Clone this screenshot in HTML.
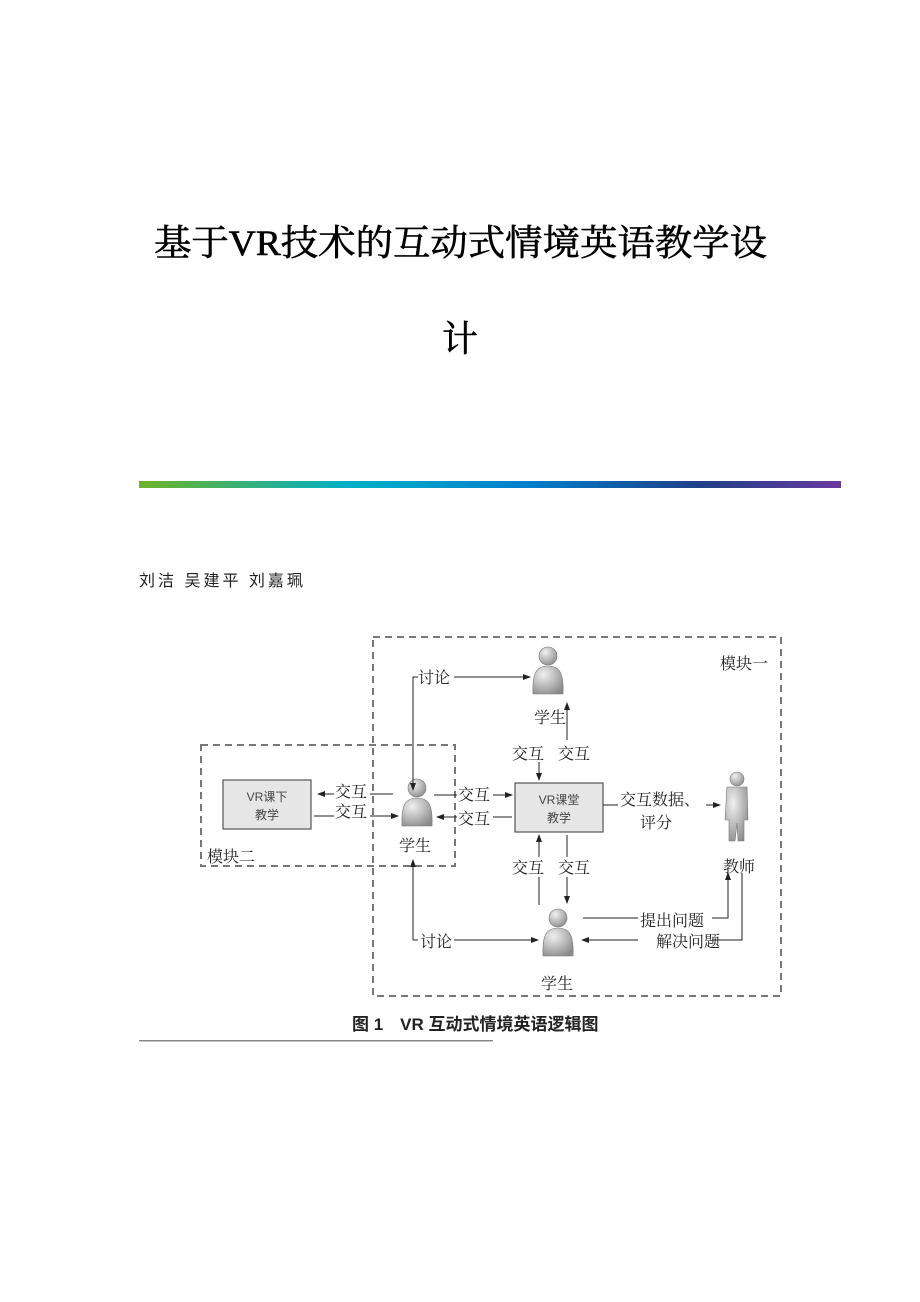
<!DOCTYPE html>
<html><head><meta charset="utf-8"><style>
html,body{margin:0;padding:0;background:#fff;width:920px;height:1302px;overflow:hidden}
svg{position:absolute;left:0;top:0}
</style></head><body>
<svg width="920" height="1302" viewBox="0 0 920 1302" xmlns="http://www.w3.org/2000/svg">
<defs>
<linearGradient id="g" x1="0" x2="1"><stop offset="0" stop-color="#6fb228"/><stop offset="0.3" stop-color="#00b0c8"/><stop offset="0.55" stop-color="#0080cc"/><stop offset="0.8" stop-color="#1f3f86"/><stop offset="1" stop-color="#6a3aa0"/></linearGradient>
<marker id="a" markerWidth="8" markerHeight="8" refX="7" refY="4" orient="auto" markerUnits="userSpaceOnUse"><path d="M0,1 L8,4 L0,7 z" fill="#222"/></marker>
<radialGradient id="p" cx="0.35" cy="0.3" r="0.8"><stop offset="0" stop-color="#f0f0f0"/><stop offset="1" stop-color="#8a8a8a"/></radialGradient>
<g id="stu"><circle cx="0" cy="-16" r="9" fill="url(#p)" stroke="#777" stroke-width="0.6"/><path d="M-15,22 C-16,0 -11,-6 0,-6 C11,-6 16,0 15,22 z" fill="url(#p)" stroke="#777" stroke-width="0.6"/></g>
</defs>
<g font-family="'Liberation Serif','Noto Serif CJK SC',serif" fill="#000" stroke="#000" stroke-width="0.6">
<text x="154" y="255" font-size="36" textLength="613" lengthAdjust="spacingAndGlyphs">基于VR技术的互动式情境英语教学设</text>
<text x="442" y="351" font-size="36">计</text>
</g>
<rect x="139" y="481" width="702" height="7" fill="url(#g)"/>
<text x="139" y="586" font-family="'Liberation Sans','Noto Sans CJK SC',sans-serif" font-size="16" fill="#222" letter-spacing="3">刘洁 吴建平 刘嘉珮</text>

<g fill="none" stroke="#777" stroke-width="2" stroke-dasharray="7,5">
<rect x="373" y="637" width="408" height="359"/>
<rect x="201" y="745" width="254" height="121"/>
</g>
<rect x="223" y="780" width="88" height="49" fill="#e6e6e6" stroke="#555" stroke-width="1.2"/>
<rect x="515" y="783" width="88" height="49" fill="#e6e6e6" stroke="#555" stroke-width="1.2"/>
<g font-family="'Liberation Sans','Noto Sans CJK SC',sans-serif" font-size="12" fill="#444" text-anchor="middle">
<text x="267" y="801">VR课下</text><text x="267" y="819">教学</text>
<text x="559" y="804">VR课堂</text><text x="559" y="822">教学</text>
</g>
<use href="#stu" x="548" y="672"/>
<use href="#stu" x="417" y="804"/>
<use href="#stu" x="558" y="934"/>
<g transform="translate(737,805)"><circle cx="0" cy="-26" r="7" fill="url(#p)" stroke="#777" stroke-width="0.6"/><path d="M-10,-18 L10,-18 L11,15 L7,15 L7,36 L1,36 L0,18 L-2,36 L-8,36 L-8,15 L-12,15 z" fill="url(#p)" stroke="#777" stroke-width="0.6"/></g>

<g stroke="#222" stroke-width="1" fill="none" marker-end="url(#a)">
<path d="M413,684 L413,677 L530,677"/>
<path d="M413,684 L413,790"/>
<path d="M413,940 L413,860"/>
<path d="M413,940 L538,940"/>
<path d="M539,745 L539,780"/>
<path d="M567,740 L567,703"/>
<path d="M539,905 L539,835"/>
<path d="M567,835 L567,903"/>
<path d="M434,795 L512,795"/>
<path d="M512,817 L437,817"/>
<path d="M393,794 L318,794"/>
<path d="M314,816 L398,816"/>
<path d="M603,805 L720,805"/>
<path d="M583,918 L728,918 L728,873"/>
<path d="M742,873 L742,940 L582,940"/>
</g>
<g font-family="'Liberation Serif','Noto Serif CJK SC',serif" font-size="16" fill="#222">
<rect x="418" y="668" width="36" height="18" fill="#fff"/><text x="418" y="683">讨论</text>
<rect x="418" y="932" width="36" height="18" fill="#fff"/><text x="420" y="947">讨论</text>
<text x="534" y="723">学生</text>
<text x="399" y="851">学生</text>
<text x="541" y="989">学生</text>
<text x="723" y="872">教师</text>
<text x="720" y="669">模块一</text>
<text x="207" y="862">模块二</text>
<rect x="511" y="742" width="80" height="20" fill="#fff"/>
<text x="512" y="759">交互</text><text x="558" y="759">交互</text>
<rect x="511" y="857" width="80" height="20" fill="#fff"/>
<text x="512" y="873">交互</text><text x="558" y="873">交互</text>
<rect x="334" y="782" width="36" height="40" fill="#fff"/>
<text x="335" y="797">交互</text><text x="335" y="817">交互</text>
<rect x="457" y="785" width="36" height="40" fill="#fff"/>
<text x="458" y="800">交互</text><text x="458" y="824">交互</text>
<rect x="618" y="790" width="88" height="36" fill="#fff"/>
<text x="620" y="805">交互数据、</text><text x="640" y="828">评分</text>
<rect x="638" y="910" width="74" height="36" fill="#fff"/>
<text x="640" y="926">提出问题</text><text x="656" y="947">解决问题</text>
</g>
<text x="352" y="1030" font-family="'Liberation Sans','Noto Sans CJK SC',sans-serif" font-size="17" font-weight="bold" fill="#222">图 1　VR 互动式情境英语逻辑图</text>
<rect x="139" y="1040" width="354" height="1.5" fill="#888"/>
</svg>
</body></html>
